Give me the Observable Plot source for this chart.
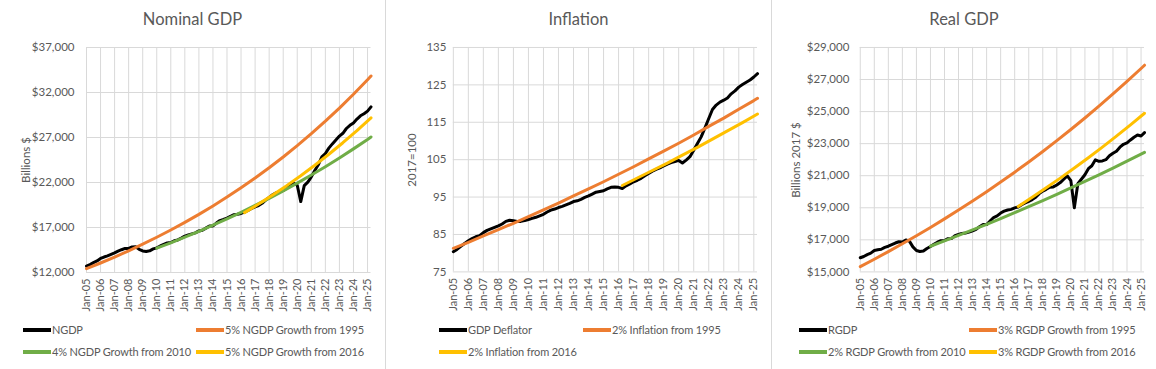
<!DOCTYPE html>
<html><head><meta charset="utf-8">
<script src="https://cdn.jsdelivr.net/npm/d3@7"></script>
<script src="https://cdn.jsdelivr.net/npm/@observablehq/plot@0.6"></script>
<style>
body{margin:0;background:#fff;font-family:Lato,"Open Sans",sans-serif;}
#wrap{position:relative;width:1156px;height:369px;overflow:hidden;}
.panel{position:absolute;top:0;height:369px;box-sizing:border-box;}
.title{position:absolute;left:0;right:0;top:9px;text-align:center;font-size:16.5px;color:#595959;}
.plot{position:absolute;top:35px;left:0;}
.ylab{position:absolute;font-size:11.5px;color:#595959;white-space:nowrap;transform:translate(-50%,-50%) rotate(-90deg);}
.leg{position:absolute;font-size:11px;letter-spacing:-0.15px;line-height:16px;color:#595959;white-space:nowrap;display:flex;align-items:center;}
.sw{width:28px;height:3.5px;margin-right:1px;}
</style></head><body><div id="wrap"></div>
<script>
// ---------- data ----------
const xTickLabels = ["Jan-05","Jan-06","Jan-07","Jan-08","Jan-09","Jan-10","Jan-11","Jan-12","Jan-13","Jan-14","Jan-15","Jan-16","Jan-17","Jan-18","Jan-19","Jan-20","Jan-21","Jan-22","Jan-23","Jan-24","Jan-25"];
const firstQuarter = "2005-01-01";
const lastQuarter = "2025-04-01";

const ngdp = [
  12700,12880,13100,13290, 13560,13720,13850,14010, 14180,14370,14530,14680, 14680,14840,14870,14580,
  14400,14340,14410,14620, 14740,14950,15110,15280, 15330,15530,15620,15820, 16040,16180,16290,16400,
  16620,16700,16930,17160, 17170,17490,17770,17890, 18040,18250,18420,18480, 18560,18720,18900,19110,
  19300,19440,19690,20040, 20350,20630,20840,20930, 21110,21380,21700,21920, 21690,19880,21650,22040,
  22630,23340,23970,24850, 25220,25820,26290,26720, 27160,27470,28000,28350, 28620,29050,29410,29640,
  29930,30400];
const gdpDeflator = [
  80.4,81.0,81.8,82.6, 83.3,83.9,84.4,84.7, 85.5,86.1,86.5,86.9, 87.3,87.8,88.5,88.8,
  88.7,88.5,88.5,88.7, 89.0,89.3,89.6,90.0, 90.4,91.0,91.5,91.8, 92.2,92.5,92.9,93.3,
  93.8,94.0,94.4,94.9, 95.3,95.8,96.3,96.5, 96.7,97.2,97.6,97.7, 97.6,97.3,98.0,98.5,
  99.1,99.5,100.0,100.7, 101.3,101.9,102.4,102.8, 103.3,103.8,104.2,104.5, 104.8,104.1,104.9,105.8,
  107.5,109.3,111.1,113.5, 116.0,118.4,119.6,120.4, 120.9,121.5,122.6,123.4, 124.4,125.1,125.7,126.3,
  127.1,128.0];
const rgdp = [
  15880,15960,16080,16170, 16330,16380,16410,16530, 16600,16700,16800,16880, 16860,16990,16920,16560,
  16330,16270,16300,16460, 16580,16720,16850,16950, 16960,17070,17080,17260, 17330,17400,17430,17480,
  17560,17650,17820,17960, 17950,18170,18390,18490, 18670,18790,18860,18900, 18990,19050,19190,19300,
  19400,19510,19660,19880, 20040,20150,20280,20300, 20420,20570,20780,20990, 20690,19000,20500,20780,
  21060,21440,21620,21990, 21900,21920,22000,22240, 22400,22530,22780,22960, 23050,23230,23400,23540,
  23480,23690];

const datesFrom1995 = ["2005-01-01","2006-01-01","2007-01-01","2008-01-01","2009-01-01","2010-01-01","2011-01-01","2012-01-01","2013-01-01","2014-01-01","2015-01-01","2016-01-01","2017-01-01","2018-01-01","2019-01-01","2020-01-01","2021-01-01","2022-01-01","2023-01-01","2024-01-01","2025-01-01","2025-04-01"];
const datesFrom2010 = ["2010-01-01","2011-01-01","2012-01-01","2013-01-01","2014-01-01","2015-01-01","2016-01-01","2017-01-01","2018-01-01","2019-01-01","2020-01-01","2021-01-01","2022-01-01","2023-01-01","2024-01-01","2025-01-01","2025-04-01"];
const datesFrom2016 = ["2016-04-01","2017-04-01","2018-04-01","2019-04-01","2020-04-01","2021-04-01","2022-04-01","2023-04-01","2024-04-01","2025-04-01"];

const ngdp5From1995 = [12427,13057,13719,14415,15146,15914,16721,17569,18460,19396,20379,21412,22498,23639,24838,26097,27420,28810,30271,31806,33418,33836];
const ngdp4From2010 = [14700,15300,15925,16575,17251,17955,18688,19451,20245,21071,21931,22826,23757,24727,25736,26786,27059];
const ngdp5From2016 = [18650,19601,20601,21651,22755,23916,25136,26418,27765,29181];

const infl2From1995 = [81.3,82.9,84.6,86.3,88.0,89.8,91.6,93.4,95.3,97.2,99.1,101.1,103.1,105.2,107.3,109.4,111.6,113.9,116.1,118.5,120.8,121.4];
const infl2From2016 = [98.1,100.1,102.1,104.1,106.2,108.3,110.5,112.7,114.9,117.2];

const rgdp3From1995 = [15330,15790,16264,16752,17254,17772,18305,18854,19420,20002,20602,21220,21857,22513,23188,23884,24600,25338,26099,26882,27688,27893];
const rgdp2From2010 = [16600,16932,17271,17616,17968,18328,18694,19068,19450,19839,20236,20640,21053,21474,21904,22342,22453];
const rgdp3From2016 = [19080,19652,20242,20849,21475,22119,22782,23466,24170,24895];

const ngdpTicks = [12000,17000,22000,27000,32000,37000];
const inflTicks = [75,85,95,105,115,125,135];
const rgdpTicks = [15000,17000,19000,21000,23000,25000,27000,29000];

const titles = ["Nominal GDP","Inflation","Real GDP"];
const yLabels = ["Billions $","2017=100","Billions 2017 $"];
const namesNGDP = ["NGDP","5% NGDP Growth from 1995","4% NGDP Growth from 2010","5% NGDP Growth from 2016"];
const namesInfl = ["GDP Deflator","2% Inflation from 1995","2% Inflation from 2016"];
const namesRGDP = ["RGDP","3% RGDP Growth from 1995","2% RGDP Growth from 2010","3% RGDP Growth from 2016"];
const colors = {black:"#000000", orange:"#ED7D31", green:"#70AD47", yellow:"#FFC000"};

// ---------- helpers ----------
const parse = d3.utcParse("%Y-%m-%d");
const quarterDates = d3.utcMonth.every(3).range(parse(firstQuarter), d3.utcMonth.offset(parse(lastQuarter), 1));
const xTickDates = xTickLabels.map(d3.utcParse("%b-%y"));
const rows = (dates, vals) => vals.map((v, i) => ({date: dates[i], value: v}));
const dollar = d3.format("$,.0f");

const panels = [
  {left:0, width:385, mL:86, mR:14.5, yTicks:ngdpTicks, fmt:dollar, yPad:12, lblX:25,
   series:[
     {name:namesNGDP[0], color:colors.black, data:rows(quarterDates, ngdp)},
     {name:namesNGDP[1], color:colors.orange, data:rows(datesFrom1995.map(parse), ngdp5From1995)},
     {name:namesNGDP[2], color:colors.green, data:rows(datesFrom2010.map(parse), ngdp4From2010)},
     {name:namesNGDP[3], color:colors.yellow, data:rows(datesFrom2016.map(parse), ngdp5From2016)}],
   legend:[[23,0],[196,0],[23,1],[196,1]]},
  {left:385, width:386, mL:67, mR:14, yTicks:inflTicks, fmt:d3.format("d"), yPad:7, lblX:25,
   series:[
     {name:namesInfl[0], color:colors.black, data:rows(quarterDates, gdpDeflator)},
     {name:namesInfl[1], color:colors.orange, data:rows(datesFrom1995.map(parse), infl2From1995)},
     {name:namesInfl[2], color:colors.yellow, data:rows(datesFrom2016.map(parse), infl2From2016)}],
   legend:[[53,0],[197,0],[53,1]]},
  {left:771, width:385, mL:88, mR:12, yTicks:rgdpTicks, fmt:dollar, yPad:11, lblX:23,
   series:[
     {name:namesRGDP[0], color:colors.black, data:rows(quarterDates, rgdp)},
     {name:namesRGDP[1], color:colors.orange, data:rows(datesFrom1995.map(parse), rgdp3From1995)},
     {name:namesRGDP[2], color:colors.green, data:rows(datesFrom2010.map(parse), rgdp2From2010)},
     {name:namesRGDP[3], color:colors.yellow, data:rows(datesFrom2016.map(parse), rgdp3From2016)}],
   legend:[[27,0],[197,0],[27,1],[197,1]]}
];

const wrap = document.getElementById("wrap");
panels.forEach((p, k) => {
  const div = document.createElement("div");
  div.className = "panel";
  div.style.left = p.left + "px";
  div.style.width = p.width + "px";
  if (k > 0) div.style.borderLeft = "1px solid #d9d9d9";
  wrap.appendChild(div);

  const t = document.createElement("div");
  t.className = "title";
  t.textContent = titles[k];
  div.appendChild(t);

  const chart = Plot.plot({
    width: p.width, height: 280,
    marginLeft: p.mL, marginRight: p.mR, marginTop: 12, marginBottom: 43,
    style: {fontFamily: "Lato, 'Open Sans', sans-serif", fontSize: "11.5px", color: "#595959", background: "transparent"},
    x: {type: "utc", domain: [parse(firstQuarter), parse(lastQuarter)]},
    y: {domain: [p.yTicks[0], p.yTicks[p.yTicks.length - 1]]},
    marks: [
      Plot.gridX(xTickDates, {stroke: "#d9d9d9", strokeOpacity: 1, strokeWidth: 1}),
      Plot.gridY(p.yTicks, {stroke: "#d9d9d9", strokeOpacity: 1, strokeWidth: 1}),
      ...p.series.map(s => Plot.line(s.data, {x: "date", y: "value", stroke: s.color, strokeWidth: 3, strokeLinejoin: "round", strokeLinecap: "round"})),
      Plot.axisY(p.yTicks, {tickSize: 0, tickPadding: p.yPad, tickFormat: p.fmt, label: null}),
      Plot.axisX(xTickDates, {tickSize: 0, tickRotate: -90, tickPadding: 6, tickFormat: d3.utcFormat("%b-%y"), label: null, fontSize: 11})
    ]
  });
  chart.classList.add("plot");
  div.appendChild(chart);

  const yl = document.createElement("div");
  yl.className = "ylab";
  yl.textContent = yLabels[k];
  yl.style.left = p.lblX + "px";
  yl.style.top = "159.5px";
  div.appendChild(yl);

  p.series.forEach((s, i) => {
    const [lx, row] = p.legend[i];
    const it = document.createElement("div");
    it.className = "leg";
    it.style.left = lx + "px";
    it.style.top = (322 + row * 22) + "px";
    const sw = document.createElement("div");
    sw.className = "sw";
    sw.style.background = s.color;
    const tx = document.createElement("span");
    tx.textContent = s.name;
    it.appendChild(sw); it.appendChild(tx);
    div.appendChild(it);
  });
});
</script></body></html>
